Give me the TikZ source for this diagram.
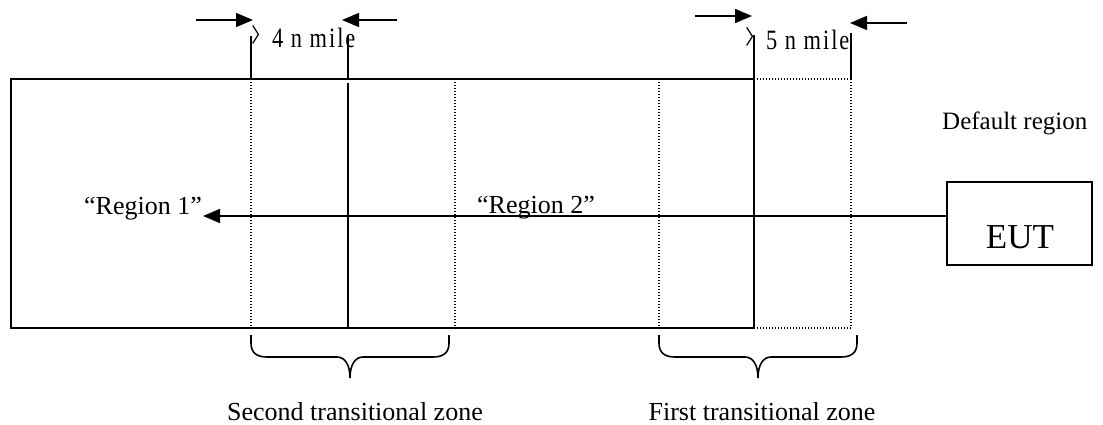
\documentclass[tikz,border=0pt]{standalone}
\usepackage{fontspec}
\setmainfont{Liberation Serif}
\newfontfamily\cjk{Noto Sans CJK SC}
\newfontfamily\milefont[FakeStretch=0.8,LetterSpace=7]{Liberation Serif}
\usetikzlibrary{arrows.meta}
\tikzset{
  x=1pt, y=-1pt,
  frame/.style={line width=2pt},
  solidv/.style={line width=2pt},
  dotv/.style={line width=1.3pt, dash pattern=on 1.3pt off 1.7pt},
  arr/.style={line width=1.6pt, -{Triangle[length=17pt,width=14pt]}},
  lbl/.style={inner sep=0pt, font=\fontsize{26pt}{30pt}\selectfont},
  milelbl/.style={inner sep=0pt, anchor=base west},
  eutbox/.style={draw, line width=1.5pt, minimum width=145pt, minimum height=83pt, inner sep=0pt},
  zbrace/.pic={
    \draw[line width=1.6pt] (0,0) -- (0,8) .. controls (0,18) and (6,22) .. (16,22)
      -- (86,22) .. controls (94,22) and (99,30) .. (99,43)
      .. controls (99,30) and (104,22) .. (112,22) -- (182,22)
      .. controls (192,22) and (198,18) .. (198,8) -- (198,0);
  }
}
\newcommand{\milebr}{{\cjk\fontsize{20pt}{20pt}\selectfont\raisebox{5pt}{〉}}\hspace{1pt}}
\begin{document}
\begin{tikzpicture}
\useasboundingbox (0,0) rectangle (1103,425);
% main region frame
\draw[frame] (11,79) rectangle (754,328);
% dotted extension (default side)
\draw[dotv] (754,79) -- (851,79);
\draw[dotv] (754,328) -- (851,328);
\draw[dotv] (851,79) -- (851,328);
% vertical dividers
\draw[solidv] (251,36) -- (251,79);
\draw[dotv] (251,79) -- (251,328);
\draw[solidv] (348,35) -- (348,79);
\draw[solidv] (348,83) -- (348,328);
\draw[dotv] (455,79) -- (455,328);
\draw[dotv] (659,79) -- (659,328);
\draw[solidv] (754,35) -- (754,79);
\draw[solidv] (851,33) -- (851,79);
% top distance arrows
\coordinate (a1s) at (196,20); \coordinate (a1e) at (253,20);
\coordinate (a2s) at (397,20); \coordinate (a2e) at (342,20);
\coordinate (a3s) at (695,16); \coordinate (a3e) at (752,16);
\coordinate (a4s) at (907,23); \coordinate (a4e) at (850,23);
\draw[arr] (a1s) -- (a1e);
\draw[arr] (a2s) -- (a2e);
\draw[arr] (a3s) -- (a3e);
\draw[arr] (a4s) -- (a4e);
% distance labels
\node[milelbl] (d4) at (251,48) {\milebr{\milefont\fontsize{28pt}{30pt}\selectfont 4 n mile}};
\node[milelbl] (d5) at (745,50) {\milebr{\milefont\fontsize{28pt}{30pt}\selectfont 5 n mile}};
% EUT and signal line
\node[eutbox] (eut) at (1019.5,223.5) {};
\node[inner sep=0pt, anchor=base, font=\fontsize{35pt}{40pt}\selectfont] (euttxt) at (1020,248) {EUT};
\node[lbl, anchor=base west, font=\fontsize{25pt}{30pt}\selectfont] (def) at (942,130) {Default region};
\coordinate (r1tip) at (203,216);
\draw[arr] (eut.west |- r1tip) -- (r1tip);
\node[lbl, anchor=base east] (reg1) at (202,214) {“Region 1”};
\node[lbl, anchor=base west] (reg2) at (477,213) {“Region 2”};
% braces
\pic at (251,335) {zbrace};
\pic at (659,335) {zbrace};
\node[lbl, anchor=base] (zone2) at (355,420) {Second transitional zone};
\node[lbl, anchor=base] (zone1) at (762,420) {First transitional zone};
\end{tikzpicture}
\end{document}
